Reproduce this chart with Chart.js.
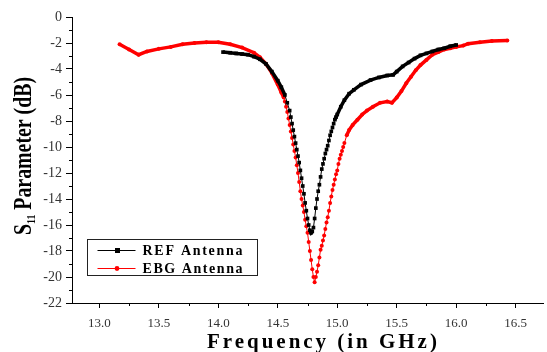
<!DOCTYPE html>
<html>
<head>
<meta charset="utf-8">
<script src="https://cdn.jsdelivr.net/npm/chart.js@4.4.1/dist/chart.umd.min.js"></script>
<style>
  html, body { margin: 0; padding: 0; background: #fff; }
</style>
</head>
<body>
<canvas id="s11Chart" width="547" height="352"></canvas>
<script>
// tick positions
const xTicks = [13.0, 13.5, 14.0, 14.5, 15.0, 15.5, 16.0, 16.5];
const xMinor = [13.25, 13.75, 14.25, 14.75, 15.25, 15.75, 16.25];
const yTicks = [0, -2, -4, -6, -8, -10, -12, -14, -16, -18, -20, -22];
const yMinor = [-1, -3, -5, -7, -9, -11, -13, -15, -17, -19, -21];

// REF antenna (black squares)
const refFreq = [14.04, 14.10, 14.15, 14.20, 14.25, 14.30, 14.35, 14.40, 14.45, 14.50,
  14.53, 14.56, 14.58, 14.60, 14.61, 14.62, 14.63, 14.64, 14.65, 14.66,
  14.67, 14.68, 14.69, 14.70, 14.71, 14.72, 14.73, 14.74, 14.75, 14.76,
  14.77, 14.78, 14.79, 14.80, 14.81, 14.82, 14.83, 14.84, 14.85, 14.86,
  14.87, 14.88, 14.89, 14.90, 14.91, 14.92, 14.93, 14.94, 14.95, 14.96,
  14.97, 14.98, 14.99, 15.00, 15.03, 15.06, 15.10, 15.14, 15.20, 15.28,
  15.35, 15.42, 15.47, 15.50, 15.55, 15.60, 15.65, 15.70, 15.75, 15.80,
  15.85, 15.90, 15.95, 16.00];
const refS11 = [-2.7, -2.75, -2.8, -2.85, -2.9, -3.05, -3.25, -3.6, -4.2, -4.9,
  -5.4, -6.0, -6.6, -7.2, -7.7, -8.2, -8.7, -9.2, -9.7, -10.2,
  -10.7, -11.2, -11.8, -12.4, -13.0, -13.6, -14.3, -14.9, -15.5, -16.0,
  -16.4, -16.6, -16.5, -16.2, -15.5, -14.7, -14.0, -13.4, -12.9, -12.3,
  -11.7, -11.3, -10.9, -10.5, -10.2, -9.9, -9.5, -9.1, -8.8, -8.5,
  -8.2, -7.9, -7.7, -7.5, -6.9, -6.4, -5.9, -5.6, -5.2, -4.85,
  -4.65, -4.5, -4.45, -4.2, -3.8, -3.5, -3.2, -2.95, -2.8, -2.65,
  -2.5, -2.4, -2.25, -2.15];

// EBG antenna (red circles)
const ebgFreq = [13.17, 13.25, 13.33, 13.40, 13.50, 13.60, 13.70, 13.80, 13.90, 14.00,
  14.10, 14.20, 14.30, 14.35, 14.40, 14.45, 14.50, 14.53, 14.55, 14.56,
  14.57, 14.58, 14.59, 14.60, 14.61, 14.62, 14.63, 14.64, 14.65, 14.66,
  14.67, 14.68, 14.69, 14.70, 14.71, 14.72, 14.73, 14.74, 14.75, 14.76,
  14.77, 14.78, 14.79, 14.80, 14.81, 14.82, 14.83, 14.84, 14.85, 14.86,
  14.87, 14.88, 14.89, 14.90, 14.91, 14.92, 14.93, 14.94, 14.95, 14.96,
  14.97, 14.98, 14.99, 15.00, 15.01, 15.02, 15.03, 15.04, 15.05, 15.06,
  15.08, 15.10, 15.13, 15.17, 15.21, 15.25, 15.30, 15.36, 15.42, 15.46,
  15.50, 15.54, 15.58, 15.62, 15.66, 15.70, 15.75, 15.80, 15.85, 15.90,
  15.95, 16.00, 16.06, 16.10, 16.20, 16.30, 16.43];
const ebgS11 = [-2.1, -2.5, -2.9, -2.65, -2.45, -2.3, -2.1, -2.0, -1.95, -1.95,
  -2.1, -2.35, -2.75, -3.1, -3.6, -4.3, -5.2, -5.8, -6.2, -6.5,
  -6.9, -7.3, -7.8, -8.3, -8.8, -9.3, -9.8, -10.3, -10.8, -11.4,
  -12.0, -12.7, -13.4, -14.0, -14.5, -15.0, -15.6, -16.1, -16.6, -17.3,
  -18.0, -18.7, -19.4, -20.0, -20.4, -20.0, -19.6, -19.1, -18.5, -17.9,
  -17.6, -17.2, -16.8, -16.3, -15.8, -15.4, -14.9, -14.3, -13.8, -13.3,
  -12.9, -12.5, -12.1, -11.8, -11.3, -10.9, -10.6, -10.3, -10.0, -9.7,
  -9.1, -8.7, -8.3, -7.9, -7.5, -7.2, -6.9, -6.6, -6.5, -6.6,
  -6.2, -5.7, -5.1, -4.6, -4.1, -3.7, -3.3, -2.9, -2.7, -2.5,
  -2.4, -2.3, -2.2, -2.05, -1.95, -1.85, -1.8];

const seriesNames = ['REF Antenna', 'EBG Antenna'];

const toPoints = (xs, ys) => xs.map((x, i) => ({ x: x, y: ys[i] }));

// thick where the trace is flat (markers overlap), thin where it is steep
const segWidth = ctx => {
  const dx = Math.abs(ctx.p1.x - ctx.p0.x) || 0.01;
  const dy = Math.abs(ctx.p1.y - ctx.p0.y);
  return dy / dx > 3 ? 1 : 3.5;
};

const serif = '"Liberation Serif", "DejaVu Serif", serif';

// minor ticks, axis titles and the boxed legend
const extras = {
  id: 'extras',
  afterDraw(chart) {
    const { ctx, chartArea, scales: { x, y } } = chart;
    ctx.save();
    ctx.strokeStyle = '#000';
    ctx.lineWidth = 1;
    ctx.beginPath();
    xMinor.forEach(v => {
      const px = Math.round(x.getPixelForValue(v)) + 0.5;
      ctx.moveTo(px, chartArea.bottom);
      ctx.lineTo(px, chartArea.bottom + 3);
    });
    yMinor.forEach(v => {
      const py = Math.round(y.getPixelForValue(v)) + 0.5;
      ctx.moveTo(chartArea.left, py);
      ctx.lineTo(chartArea.left - 3, py);
    });
    ctx.stroke();

    // x title
    ctx.fillStyle = '#000';
    ctx.font = 'bold 21px ' + serif;
    ctx.textBaseline = 'alphabetic';
    ctx.textAlign = 'left';
    const xt = 'Frequency (in GHz)';
    const w0 = ctx.measureText(xt).width;
    const wantX = 230;
    ctx.letterSpacing = ((wantX - w0) / (xt.length - 1)).toFixed(2) + 'px';
    ctx.fillText(xt, 207, 348);
    ctx.letterSpacing = '0px';

    // y title with subscript
    ctx.save();
    ctx.translate(31, 156);
    ctx.rotate(-Math.PI / 2);
    const big = 'bold 26px ' + serif, small = 'bold 13px ' + serif;
    ctx.font = big;
    const wS = ctx.measureText('S').width;
    const wRest = ctx.measureText(' Parameter (dB)').width;
    ctx.font = small;
    const wSub = ctx.measureText('11').width;
    const total = wS + wSub + wRest;
    ctx.scale(158 / total, 1);
    let cx = -total / 2;
    ctx.font = big;
    ctx.fillText('S', cx, 0);
    cx += wS;
    ctx.font = small;
    ctx.fillText('11', cx, 4);
    cx += wSub;
    ctx.font = big;
    ctx.fillText(' Parameter (dB)', cx, 0);
    ctx.restore();

    // legend box
    const bx = chartArea.left + 15.5, by = chartArea.bottom - 63.5;
    ctx.strokeStyle = '#222';
    ctx.strokeRect(bx, by, 170, 36);
    ctx.font = 'bold 14px ' + serif;
    ctx.textBaseline = 'middle';
    chart.data.datasets.forEach((ds, i) => {
      const ly = by + 11 + i * 18;
      ctx.strokeStyle = ds.borderColor;
      ctx.lineWidth = 1;
      ctx.beginPath();
      ctx.moveTo(bx + 10, ly);
      ctx.lineTo(bx + 48, ly);
      ctx.stroke();
      ctx.fillStyle = ds.pointBackgroundColor;
      if (ds.pointStyle === 'rect') {
        ctx.fillRect(bx + 27.5, ly - 2.5, 5, 5);
      } else {
        ctx.beginPath();
        ctx.arc(bx + 29.5, ly, 2.4, 0, Math.PI * 2);
        ctx.fill();
      }
      ctx.fillStyle = '#000';
      const lw = ctx.measureText(ds.label).width;
      ctx.letterSpacing = ((100 - lw) / (ds.label.length - 1)).toFixed(2) + 'px';
      ctx.fillText(ds.label, bx + 55, ly + 1);
      ctx.letterSpacing = '0px';
    });
    ctx.restore();
  }
};

new Chart(document.getElementById('s11Chart'), {
  type: 'line',
  data: {
    datasets: [
      {
        label: seriesNames[0],
        data: toPoints(refFreq, refS11),
        borderColor: '#000000',
        backgroundColor: '#000000',
        pointBackgroundColor: '#000000',
        pointBorderWidth: 0,
        pointStyle: 'rect',
        pointRadius: 2.6,
        borderWidth: 1,
        tension: 0,
        segment: { borderWidth: segWidth }
      },
      {
        label: seriesNames[1],
        data: toPoints(ebgFreq, ebgS11),
        borderColor: '#ff0000',
        backgroundColor: '#ff0000',
        pointBackgroundColor: '#ff0000',
        pointBorderWidth: 0,
        pointStyle: 'circle',
        pointRadius: 2,
        borderWidth: 1,
        tension: 0,
        segment: { borderWidth: segWidth }
      }
    ]
  },
  options: {
    responsive: false,
    animation: false,
    layout: { padding: { top: 17, right: 1, bottom: 0, left: 0 } },
    plugins: {
      legend: { display: false },
      tooltip: { enabled: false }
    },
    scales: {
      x: {
        type: 'linear',
        min: 12.77,
        max: 16.73,
        afterBuildTicks: s => { s.ticks = xTicks.map(v => ({ value: v })); },
        afterFit: s => { s.height = 49; },
        ticks: {
          callback: v => Number(v).toFixed(1),
          font: { family: serif, size: 13 },
          color: '#333',
          padding: 8,
          maxRotation: 0,
          autoSkip: false
        },
        grid: { drawOnChartArea: false, tickLength: 5, color: '#000' },
        border: { color: '#000', width: 1 }
      },
      y: {
        type: 'linear',
        min: -22,
        max: 0,
        afterBuildTicks: s => { s.ticks = yTicks.map(v => ({ value: v })); },
        afterFit: s => { s.width = 72; },
        ticks: {
          callback: v => String(v),
          font: { family: serif, size: 14 },
          color: '#333',
          padding: 4,
          autoSkip: false
        },
        grid: { drawOnChartArea: false, tickLength: 6, color: '#000' },
        border: { color: '#000', width: 1 }
      }
    }
  },
  plugins: [extras]
});
</script>
</body>
</html>
